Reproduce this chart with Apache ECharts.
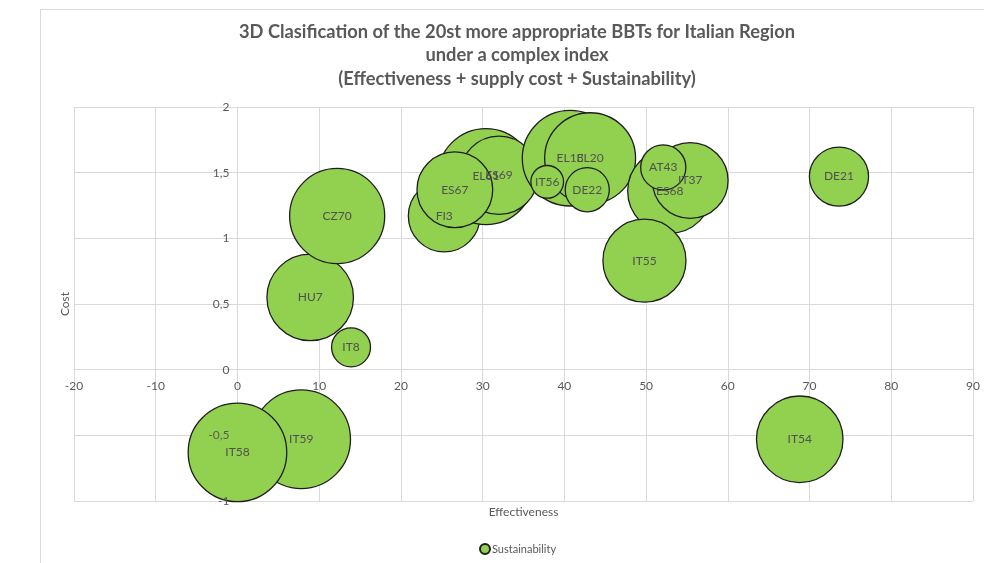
<!DOCTYPE html>
<html>
<head>
<meta charset="utf-8">
<script src="https://cdn.jsdelivr.net/npm/echarts@6/dist/echarts.min.js"></script>
<style>html,body{margin:0;padding:0;background:#fff;}#c{width:984px;height:563px;}</style>
</head>
<body>
<div id="c"></div>
<script>
// Data (draw order: later items drawn on top)
var names          = ['HU7','CZ70','IT8','IT59','IT58','IT54','FI3','EL61','ES69','ES67','EL13','EL20','IT56','DE22','ES68','IT37','AT43','IT55','DE21'];
var effectiveness  = [8.9, 12.2, 13.9, 7.8, 0.0, 68.8, 25.3, 30.4, 32.0, 26.6, 40.7, 43.15, 37.9, 42.8, 52.9, 55.4, 52.1, 49.8, 73.6];
var cost           = [0.55, 1.17, 0.17, -0.53, -0.63, -0.53, 1.17, 1.47, 1.48, 1.37, 1.61, 1.61, 1.43, 1.37, 1.36, 1.44, 1.54, 0.83, 1.47];
var sustainability = [0.77, 0.93, 0.156, 1.0, 1.0, 0.77, 0.53, 0.95, 0.63, 0.59, 0.94, 0.85, 0.11, 0.20, 0.73, 0.59, 0.21, 0.71, 0.36];
var xTicks = { min: -20, max: 90, interval: 10 };
var yTicks = { min: -1, max: 2, interval: 0.5 };

var maxS = Math.max.apply(null, sustainability);
var data = names.map(function (n, i) {
  return { name: n, value: [effectiveness[i], cost[i], sustainability[i]] };
});

var GRID = { left: 74, right: 11, top: 107, bottom: 62 };
var W = 984, H = 563;
var gw = W - GRID.left - GRID.right, gh = H - GRID.top - GRID.bottom;
// shift the axes so they cross at the origin (0, 0)
var yAxisOffset = -gw * (0 - xTicks.min) / (xTicks.max - xTicks.min);
var xAxisOffset = -gh * (0 - yTicks.min) / (yTicks.max - yTicks.min);

var chart = echarts.init(document.getElementById('c'));
var gray = '#595959';
var yLabelFmt = function (v) { return String(v).replace('.', ','); };
chart.setOption({
  animation: false,
  textStyle: { fontFamily: 'Lato' },
  graphic: [{
    type: 'rect', left: 38, top: 7, z: -10, silent: true,
    shape: { width: 1000, height: 600 },
    style: { fill: 'none', stroke: '#d9d9d9', lineWidth: 1 }
  }],
  title: {
    text: '3D Clasification of the 20st more appropriate BBTs for Italian Region\nunder a complex index\n(Effectiveness + supply cost + Sustainability)',
    left: 512, top: 15, textAlign: 'center',
    textStyle: { fontFamily: 'Lato', fontWeight: 'bold', fontSize: 18.3, color: gray, lineHeight: 23.5 }
  },
  legend: {
    data: ['Sustainability'], left: 474, top: 538,
    itemWidth: 10, itemHeight: 10, itemGap: 4, icon: 'circle',
    textStyle: { fontFamily: 'Lato', fontSize: 11, color: gray, padding: [0,0,0,-3] }
  },
  grid: { left: GRID.left, right: GRID.right, top: GRID.top, bottom: GRID.bottom, outerBoundsMode: 'none', containLabel: false },
  xAxis: [{
    type: 'value', min: xTicks.min, max: xTicks.max, interval: xTicks.interval,
    offset: xAxisOffset,
    name: 'Effectiveness', nameLocation: 'middle', nameGap: 136,
    nameTextStyle: { fontFamily: 'Lato', fontSize: 12, color: gray },
    axisLine: { show: true, onZero: false, lineStyle: { color: '#d9d9d9' } },
    axisTick: { show: false },
    axisLabel: { color: gray, fontSize: 12, margin: 10 },
    splitLine: { show: true, lineStyle: { color: '#d9d9d9' } }
  }],
  yAxis: [{
    type: 'value', min: yTicks.min, max: yTicks.max, interval: yTicks.interval,
    position: 'left', offset: yAxisOffset,
    name: 'Cost', nameLocation: 'middle', nameGap: 166, nameRotate: 90,
    nameTextStyle: { fontFamily: 'Lato', fontSize: 12, color: gray },
    axisLine: { show: true, onZero: false, lineStyle: { color: '#d9d9d9' } },
    axisTick: { show: false },
    axisLabel: { show: false },
    splitLine: { show: true, lineStyle: { color: '#d9d9d9' } }
  }, {
    // tick labels drawn above the bubbles, as in the original
    type: 'value', min: yTicks.min, max: yTicks.max, interval: yTicks.interval,
    position: 'left', offset: yAxisOffset, z: 10,
    axisLine: { show: false, onZero: false },
    axisTick: { show: false },
    axisLabel: { color: gray, fontSize: 12, margin: 8, formatter: yLabelFmt },
    splitLine: { show: false }
  }],
  series: [{
    name: 'Sustainability', type: 'scatter', data: data, xAxisIndex: 0, yAxisIndex: 0,
    symbolSize: function (v) { return 2 * 49.3 * Math.sqrt(v[2] / maxS); },
    itemStyle: { color: '#92D050', borderColor: '#1e1e1e', borderWidth: 1.3, opacity: 1 },
    label: { show: true, position: 'inside', formatter: '{b}', color: '#505050', fontSize: 12, fontFamily: 'Lato' },
    labelLayout: { hideOverlap: false },
    emphasis: { disabled: true }
  }]
});
</script>
</body>
</html>
